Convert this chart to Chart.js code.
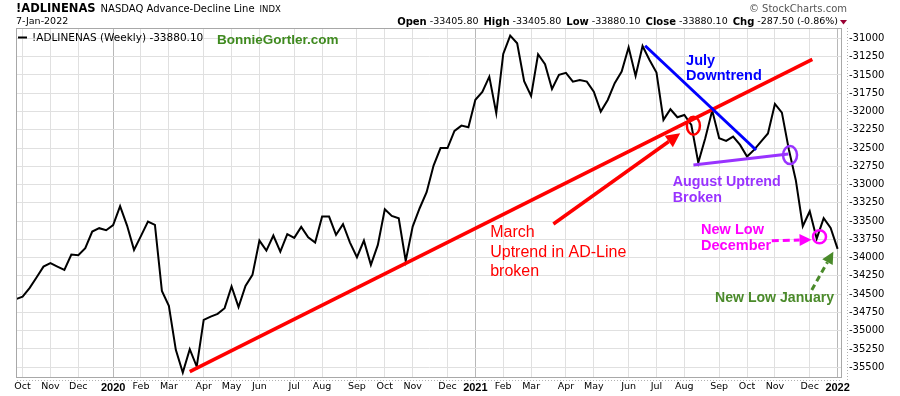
<!DOCTYPE html>
<html>
<head>
<meta charset="utf-8">
<script src="https://cdn.jsdelivr.net/npm/chart.js@4.4.1/dist/chart.umd.min.js"></script>
<style>
  html, body { margin: 0; padding: 0; background: #fff; }
  #wrap { width: 900px; height: 396px; }
</style>
</head>
<body>
<div id="wrap"><canvas id="adChart" width="900" height="396"></canvas></div>
<script>
// Weekly closes of !ADLINENAS, first bar = week of 30-Sep-2019, last = week of 3-Jan-2022
const firstWeek = Date.UTC(2019, 8, 30);
const adValues = [
    -34570, -34533, -34418, -34273, -34123, -34076, -34123, -34168, -33958, -33967,
    -33871, -33643, -33597, -33625, -33556, -33296, -33561, -33894, -33703, -33507,
    -33552, -34455, -34660, -35263, -35573, -35253, -35491, -34852, -34807, -34770,
    -34692, -34396, -34678, -34387, -34236, -33767, -33904, -33698, -33917, -33678,
    -33730, -33580, -33721, -33794, -33438, -33438, -33689, -33543, -33794, -33994,
    -33767, -34099, -33826, -33337, -33429, -33461, -34045, -33575, -33324, -33105,
    -32740, -32500, -32500, -32266, -32193, -32215, -31840, -31732, -31523, -32024,
    -31212, -30962, -31066, -31585, -31787, -31216, -31353, -31691, -31499, -31470,
    -31591, -31570, -31591, -31728, -32001, -31842, -31613, -31454, -31121, -31513,
    -31103, -31294, -31468, -32115, -31969, -32079, -32047, -32184, -32699, -32366,
    -31988, -32366, -32403, -32343, -32457, -32617, -32526, -32412, -32300, -31896,
    -32015, -32520, -32940, -33570, -33365, -33740, -33461, -33593, -33880.10
];
const monthNames = ['Jan', 'Feb', 'Mar', 'Apr', 'May', 'Jun', 'Jul', 'Aug', 'Sep', 'Oct', 'Nov', 'Dec'];
const yTicks = [-35500, -35250, -35000, -34750, -34500, -34250, -34000, -33750, -33500, -33250,
    -33000, -32750, -32500, -32250, -32000, -31750, -31500, -31250, -31000];

// annotations, in (week index, value) coordinates
const trendLines = [
    { from: [25.0, -35561], to: [114.37, -31286], color: '#ff0000', width: 3.5 },
    { from: [90.37, -31100], to: [106.3, -32527], color: '#0000ff', width: 3 },
    { from: [97.3, -32733], to: [110.93, -32582], color: '#9933ff', width: 3 }
];
const arrows = [
    { from: [77.2, -33540], to: [95.4, -32299], color: '#ff0000', width: 3.5, head: [14, 7], dash: [] },
    { from: [108.55, -33769], to: [114.26, -33755], color: '#ff00ff', width: 3, head: [12, 6], dash: [7, 4] },
    { from: [114.29, -34443], to: [117.39, -33919], color: '#4a8a2a', width: 3, head: [12, 6], dash: [6, 4] }
];
const rings = [
    { at: [97.3, -32195], rx: 6.5, ry: 9, color: '#ff0000' },
    { at: [111.17, -32596], rx: 7, ry: 9, color: '#9933ff' },
    { at: [115.4, -33714], rx: 6.5, ry: 6.5, color: '#ff00ff' }
];
const notes = [
    { text: 'July', at: [96.25, -31305], color: '#0000ff', font: 'bold 14.5px "Liberation Sans"' },
    { text: 'Downtrend', at: [96.25, -31510], color: '#0000ff', font: 'bold 14.5px "Liberation Sans"' },
    { text: 'March', at: [68.13, -33658], color: '#ff0000', font: '16px "Liberation Sans"' },
    { text: 'Uptrend in AD-Line', at: [68.13, -33933], color: '#ff0000', font: '16px "Liberation Sans"' },
    { text: 'broken', at: [68.13, -34191], color: '#ff0000', font: '16px "Liberation Sans"' },
    { text: 'August Uptrend', at: [94.34, -32969], color: '#9933ff', font: 'bold 14.3px "Liberation Sans"' },
    { text: 'Broken', at: [94.34, -33179], color: '#9933ff', font: 'bold 14.3px "Liberation Sans"' },
    { text: 'New Low', at: [98.4, -33626], color: '#ff00ff', font: 'bold 14.5px "Liberation Sans"' },
    { text: 'December', at: [98.4, -33840], color: '#ff00ff', font: 'bold 14.5px "Liberation Sans"' },
    { text: 'New Low January', at: [100.4, -34556], color: '#4a8a2a', font: 'bold 14.1px "Liberation Sans"' }
];

const weekIdx = adValues.map((v, i) => i);

// first bar of every month gets a grid line + label
const monthTicks = [];
weekIdx.forEach(i => {
    if (i === 0) return;
    const d = new Date(firstWeek + i * 7 * 86400000);
    const p = new Date(firstWeek + (i - 1) * 7 * 86400000);
    if (d.getUTCMonth() !== p.getUTCMonth()) {
        const isYear = d.getUTCMonth() === 0;
        monthTicks.push({ i, label: isYear ? String(d.getUTCFullYear()) : monthNames[d.getUTCMonth()], isYear });
    }
});
const tickByIdx = {};
monthTicks.forEach(t => { tickByIdx[t.i] = t; });

function drawArrow(ctx, p0, p1, a) {
    const ang = Math.atan2(p1[1] - p0[1], p1[0] - p0[0]);
    const [hl, hw] = a.head;
    const bx = p1[0] - hl * Math.cos(ang), by = p1[1] - hl * Math.sin(ang);
    ctx.strokeStyle = a.color;
    ctx.fillStyle = a.color;
    ctx.lineWidth = a.width;
    ctx.setLineDash(a.dash);
    ctx.beginPath();
    ctx.moveTo(p0[0], p0[1]);
    ctx.lineTo(bx, by);
    ctx.stroke();
    ctx.setLineDash([]);
    ctx.beginPath();
    ctx.moveTo(p1[0], p1[1]);
    ctx.lineTo(bx + hw * Math.sin(ang), by - hw * Math.cos(ang));
    ctx.lineTo(bx - hw * Math.sin(ang), by + hw * Math.cos(ang));
    ctx.closePath();
    ctx.fill();
}

const overlay = {
    id: 'overlay',
    afterDatasetsDraw(chart) {
        const { ctx, scales: { x, y } } = chart;
        const px = p => [x.getPixelForValue(p[0]), y.getPixelForValue(p[1])];
        ctx.save();
        ctx.lineCap = 'butt';
        trendLines.forEach(l => {
            const a = px(l.from), b = px(l.to);
            ctx.strokeStyle = l.color;
            ctx.lineWidth = l.width;
            ctx.beginPath();
            ctx.moveTo(a[0], a[1]);
            ctx.lineTo(b[0], b[1]);
            ctx.stroke();
        });
        arrows.forEach(a => drawArrow(ctx, px(a.from), px(a.to), a));
        rings.forEach(r => {
            const c = px(r.at);
            ctx.strokeStyle = r.color;
            ctx.lineWidth = 2.5;
            ctx.beginPath();
            ctx.ellipse(c[0], c[1], r.rx, r.ry, 0, 0, Math.PI * 2);
            ctx.stroke();
        });
        ctx.textBaseline = 'middle';
        ctx.textAlign = 'left';
        notes.forEach(n => {
            const p = px(n.at);
            ctx.font = n.font;
            ctx.fillStyle = n.color;
            ctx.fillText(n.text, p[0], p[1]);
        });
        ctx.restore();
    },
    afterDraw(chart) {
        const { ctx, chartArea: a } = chart;
        ctx.save();
        // plot frame
        ctx.strokeStyle = '#a8a8a8';
        ctx.lineWidth = 1;
        ctx.strokeRect(a.left - 0.5, a.top + 0.5, a.right - a.left, a.bottom - a.top);
        ctx.setLineDash([1, 2]);
        ctx.strokeStyle = '#b0b0b0';
        ctx.beginPath();
        ctx.moveTo(a.right + 5.5, a.top);
        ctx.lineTo(a.right + 5.5, a.bottom + 5);
        ctx.moveTo(a.left, a.bottom + 3.5);
        ctx.lineTo(a.right, a.bottom + 3.5);
        ctx.stroke();
        ctx.setLineDash([]);

        ctx.textBaseline = 'middle';
        ctx.fillStyle = '#000';
        // header
        ctx.font = 'bold 11.5px "DejaVu Sans"';
        ctx.fillText('!ADLINENAS', 16, 9);
        let w = ctx.measureText('!ADLINENAS').width;
        ctx.font = '10px "DejaVu Sans"';
        ctx.fillText('NASDAQ Advance-Decline Line', 16 + w + 5, 9);
        let w2 = ctx.measureText('NASDAQ Advance-Decline Line').width;
        ctx.font = '8.5px "DejaVu Sans"';
        ctx.fillText('INDX', 16 + w + 5 + w2 + 5, 9.5);
        ctx.font = '9.5px "DejaVu Sans"';
        ctx.fillText('7-Jan-2022', 16, 22);

        // stats line, right aligned
        const stats = [['Open', '-33405.80'], ['High', '-33405.80'], ['Low', '-33880.10'], ['Close', '-33880.10'], ['Chg', '-287.50 (-0.86%)']];
        const boldF = 'bold 10px "DejaVu Sans"', regF = '9.5px "DejaVu Sans"';
        const kGap = 3, vGap = 5;
        let total = 0;
        stats.forEach(([k, v], j) => {
            ctx.font = boldF; total += ctx.measureText(k).width + kGap;
            ctx.font = regF; total += ctx.measureText(v).width + (j < stats.length - 1 ? vGap : 0);
        });
        let sx = 838 - total;
        stats.forEach(([k, v]) => {
            ctx.font = boldF; ctx.fillText(k, sx, 22); sx += ctx.measureText(k).width + kGap;
            ctx.font = regF; ctx.fillText(v, sx, 22); sx += ctx.measureText(v).width + vGap;
        });
        ctx.fillStyle = '#990033';
        ctx.beginPath();
        ctx.moveTo(840, 20); ctx.lineTo(847, 20); ctx.lineTo(843.5, 24.5); ctx.closePath();
        ctx.fill();

        ctx.fillStyle = '#555';
        ctx.font = '10px "DejaVu Sans"';
        ctx.textAlign = 'right';
        ctx.fillText('\u00A9 StockCharts.com', 847, 9);
        ctx.textAlign = 'left';

        // legend
        ctx.strokeStyle = '#000';
        ctx.lineWidth = 2;
        ctx.beginPath();
        ctx.moveTo(a.left + 1, 37.5);
        ctx.lineTo(a.left + 10, 37.5);
        ctx.stroke();
        ctx.fillStyle = '#000';
        ctx.font = '10.5px "DejaVu Sans"';
        ctx.fillText('!ADLINENAS (Weekly) -33880.10', a.left + 15, 38);
        ctx.fillStyle = '#3f8a1f';
        ctx.font = 'bold 13.5px "Liberation Sans"';
        ctx.fillText('BonnieGortler.com', 217, 40);
        ctx.restore();
    }
};

new Chart(document.getElementById('adChart'), {
    type: 'line',
    data: {
        labels: weekIdx,
        datasets: [{
            data: adValues.map((v, i) => ({ x: i, y: v })),
            borderColor: '#000',
            borderWidth: 2,
            pointRadius: 0,
            tension: 0,
            fill: false
        }]
    },
    options: {
        responsive: false,
        animation: false,
        layout: { padding: { left: 17, top: 28, right: 0, bottom: 0 } },
        plugins: { legend: { display: false }, tooltip: { enabled: false } },
        scales: {
            x: {
                type: 'linear',
                min: 0.2,
                max: 118.63,
                afterBuildTicks: axis => { axis.ticks = monthTicks.map(t => ({ value: t.i })); },
                afterFit: axis => { axis.height = 19; },
                grid: {
                    drawTicks: false,
                    color: c => (c.tick && tickByIdx[c.tick.value] && tickByIdx[c.tick.value].isYear) ? '#b8b8b8' : '#e0e0e0'
                },
                border: { display: false },
                ticks: {
                    autoSkip: false,
                    maxRotation: 0,
                    padding: 4,
                    color: '#000',
                    font: c => (c.tick && tickByIdx[c.tick.value] && tickByIdx[c.tick.value].isYear)
                        ? { family: 'Liberation Sans', size: 11, weight: 'bold' }
                        : { family: 'DejaVu Sans', size: 9.5 },
                    callback: v => tickByIdx[v] ? tickByIdx[v].label : ''
                }
            },
            y: {
                position: 'right',
                min: -35634,
                max: -30857,
                afterBuildTicks: axis => { axis.ticks = yTicks.map(v => ({ value: v })); },
                afterFit: axis => { axis.width = 58; },
                grid: { drawTicks: false, color: '#e0e0e0' },
                border: { display: false },
                ticks: {
                    padding: 7,
                    color: '#000',
                    font: { family: 'DejaVu Sans', size: 10 },
                    callback: v => String(v)
                }
            }
        }
    },
    plugins: [overlay]
});
</script>
</body>
</html>
